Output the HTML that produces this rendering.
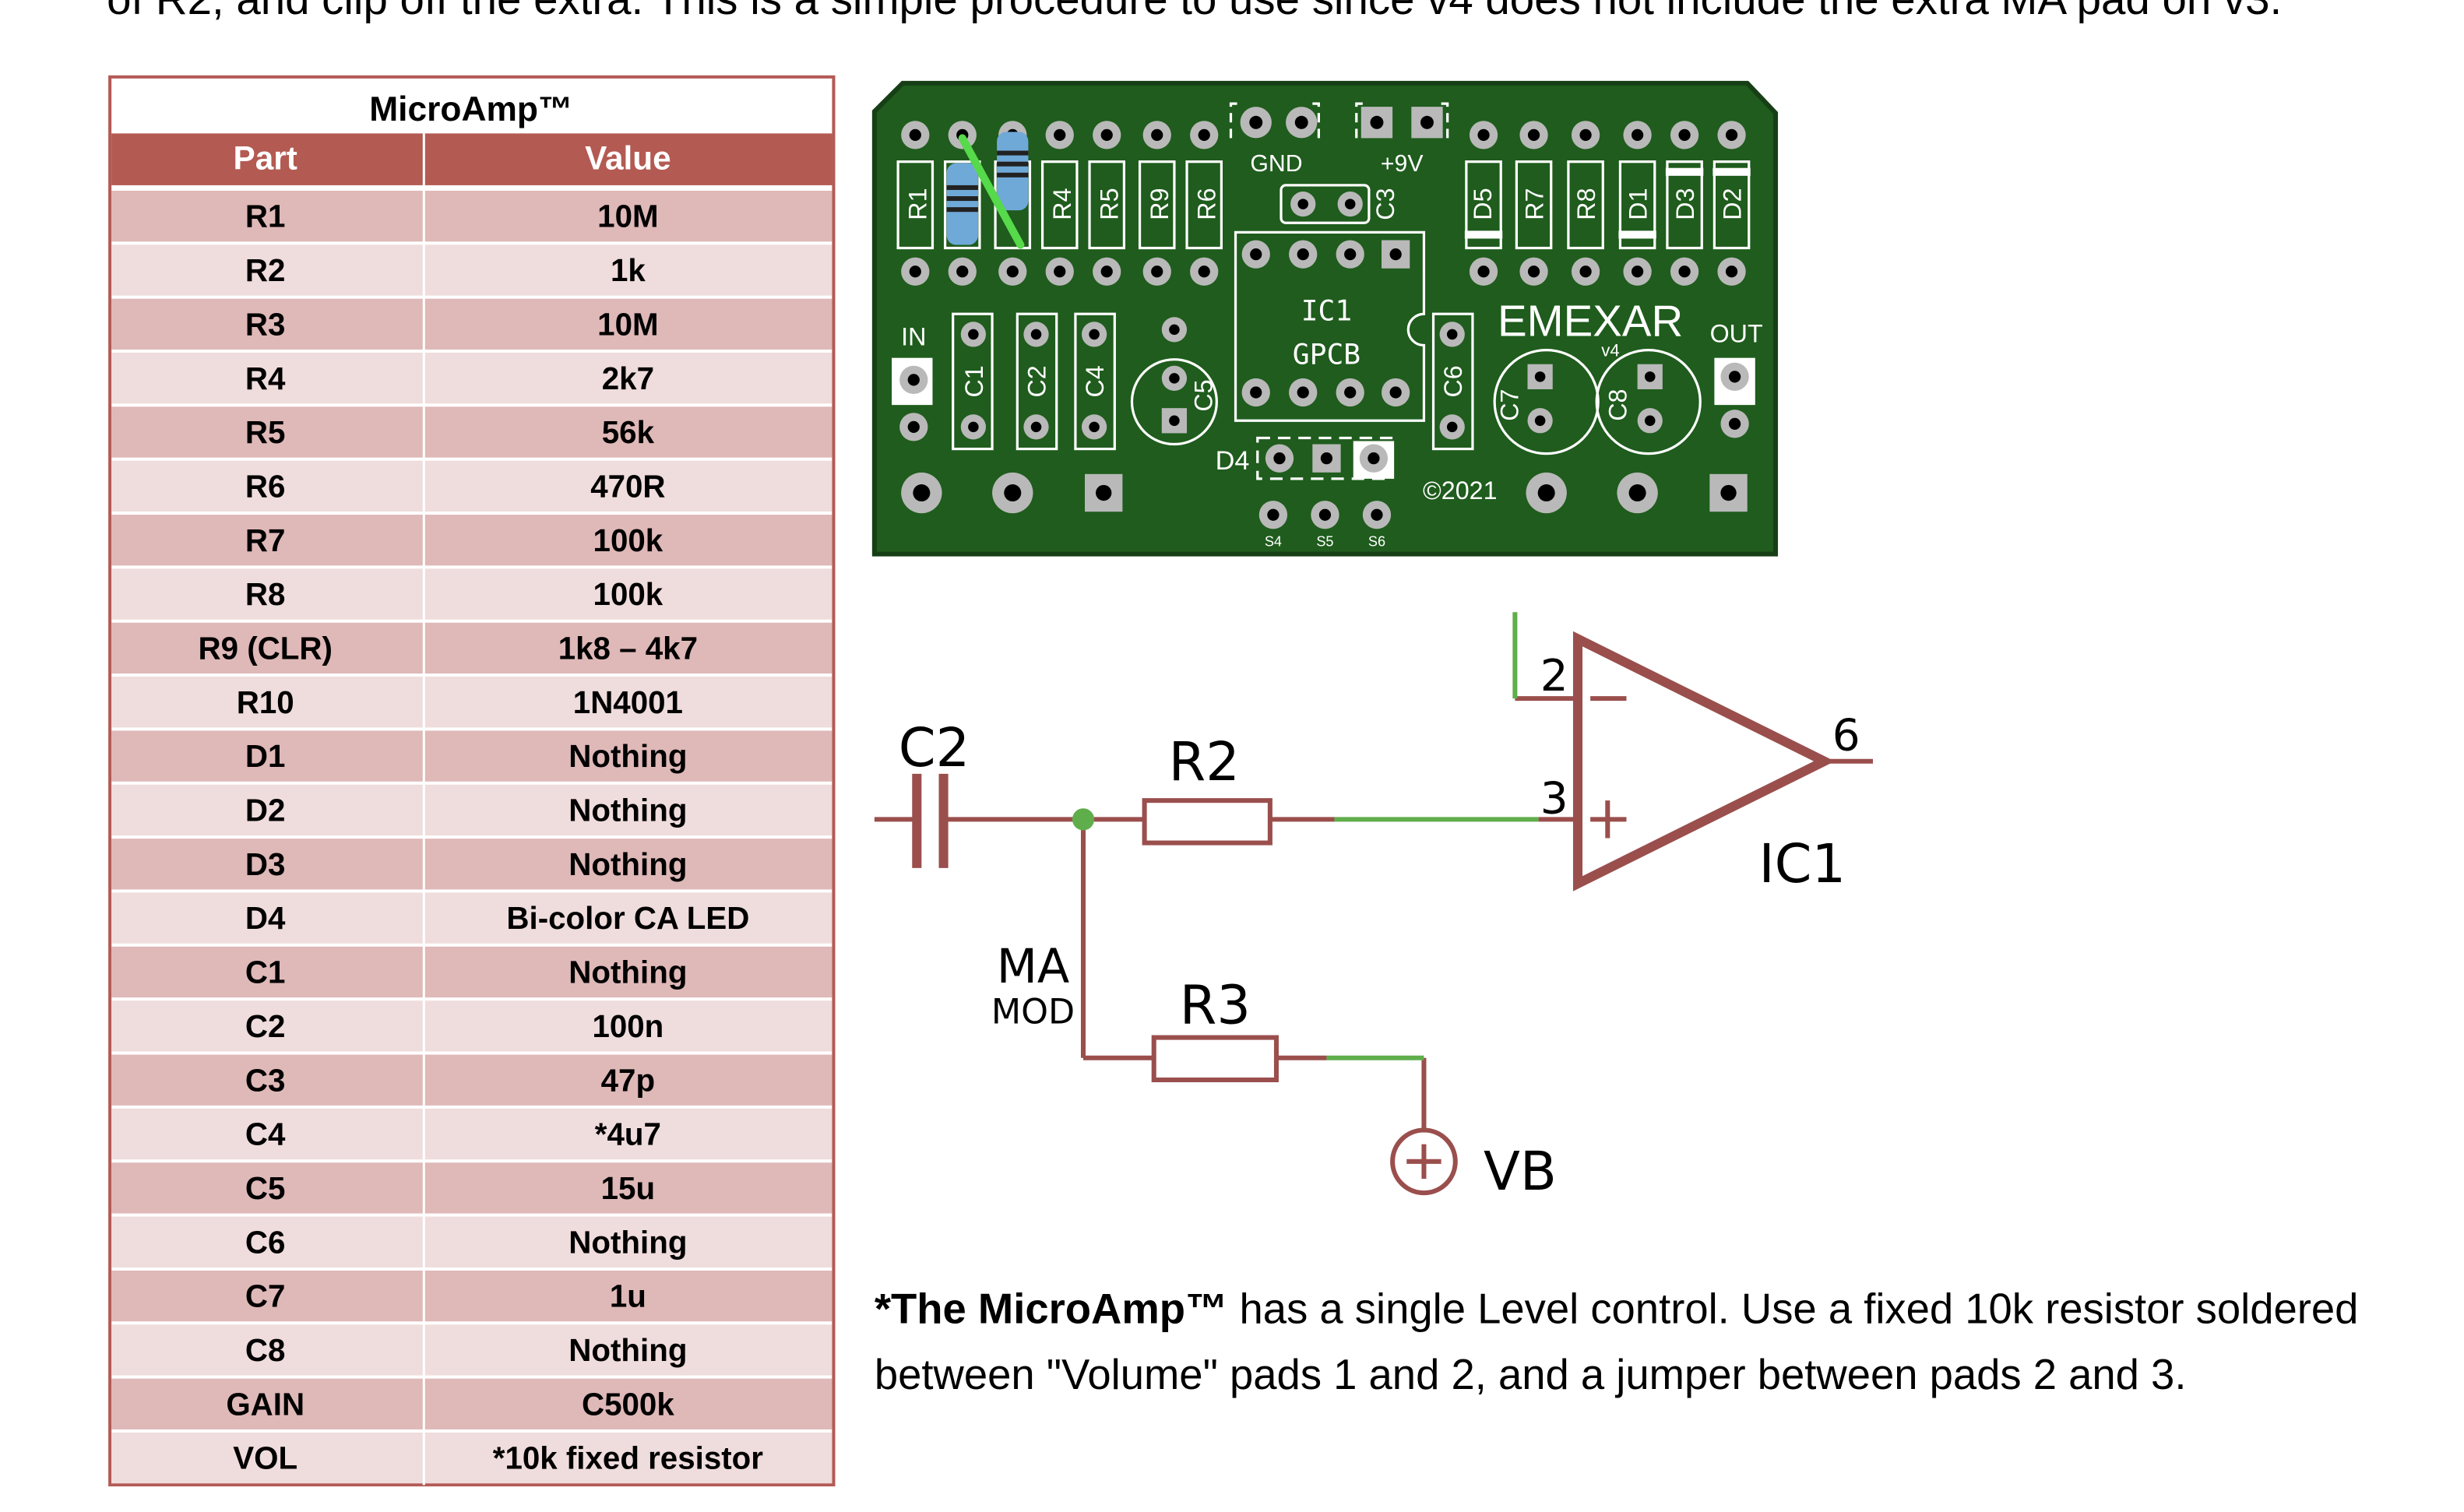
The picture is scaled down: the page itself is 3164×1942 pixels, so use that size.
<!DOCTYPE html>
<html><head><meta charset="utf-8"><style>
html,body{margin:0;padding:0;background:#fff;}
svg{display:block;}
</style></head><body>
<svg width="3164" height="1942" viewBox="0 0 1569.5 963.3" xmlns="http://www.w3.org/2000/svg" font-family="Liberation Sans, sans-serif">
<rect width="1570" height="964" fill="#fff"/>
<text x="68" y="9" font-size="28" fill="#000">of R2, and clip off the extra. This is a simple procedure to use since v4 does not include the extra MA pad on v3.</text>

<!-- TABLE -->
<rect x="70" y="49" width="461" height="897" fill="#fff" stroke="#b35a55" stroke-width="2"/>
<text x="300" y="77" font-size="22" font-weight="bold" text-anchor="middle">MicroAmp™</text>
<rect x="71" y="85" width="459" height="33" fill="#b35a52"/>
<line x1="270" y1="85" x2="270" y2="946" stroke="#fff" stroke-width="1.5"/>
<text x="169" y="108" font-size="21" font-weight="bold" fill="#fff" text-anchor="middle">Part</text>
<text x="400" y="108" font-size="21" font-weight="bold" fill="#fff" text-anchor="middle">Value</text>
<g font-size="20" font-weight="bold" text-anchor="middle">
<g id="rows"></g>
</g>
<script>
(function(){
var d=[["R1","10M"],["R2","1k"],["R3","10M"],["R4","2k7"],["R5","56k"],["R6","470R"],["R7","100k"],["R8","100k"],["R9 (CLR)","1k8 – 4k7"],["R10","1N4001"],["D1","Nothing"],["D2","Nothing"],["D3","Nothing"],["D4","Bi-color CA LED"],["C1","Nothing"],["C2","100n"],["C3","47p"],["C4","*4u7"],["C5","15u"],["C6","Nothing"],["C7","1u"],["C8","Nothing"],["GAIN","C500k"],["VOL","*10k fixed resistor"]];
var g=document.getElementById("rows"),ns="http://www.w3.org/2000/svg",h=34.4,y0=120.5;
d.forEach(function(r,i){var y=y0+i*h;
var a=document.createElementNS(ns,"rect");a.setAttribute("x",71);a.setAttribute("y",y+1);a.setAttribute("width",459);a.setAttribute("height",h-2);a.setAttribute("fill",i%2?"#efdcdc":"#dfb8b8");g.appendChild(a);
[[169,r[0]],[400,r[1]]].forEach(function(c){var t=document.createElementNS(ns,"text");t.setAttribute("x",c[0]);t.setAttribute("y",y+h/2+7);t.textContent=c[1];g.appendChild(t);});
var l=document.createElementNS(ns,"line");l.setAttribute("x1",270);l.setAttribute("x2",270);l.setAttribute("y1",y);l.setAttribute("y2",y+h);l.setAttribute("stroke","#fff");l.setAttribute("stroke-width","1.5");g.appendChild(l);
});
})();
</script>

<!-- PCB -->
<polygon points="557,71 575,53 1113,53 1131,72 1131,353 557,353" fill="#1f5c1d" stroke="#173f16" stroke-width="3"/>
<g fill="none" stroke="#fff" stroke-width="1.6">
 <rect x="572" y="103" width="22" height="55"/><rect x="602" y="103" width="22" height="55"/><rect x="634" y="103" width="22" height="55"/>
 <rect x="664" y="103" width="22" height="55"/><rect x="694" y="103" width="22" height="55"/><rect x="726" y="103" width="22" height="55"/><rect x="756" y="103" width="22" height="55"/>
 <rect x="934" y="103" width="22" height="55"/><rect x="966" y="103" width="22" height="55"/><rect x="999" y="103" width="22" height="55"/>
 <rect x="1032" y="103" width="22" height="55"/><rect x="1062" y="103" width="22" height="55"/><rect x="1092" y="103" width="22" height="55"/>
 <rect x="816" y="118" width="56" height="24" rx="3"/>
 <path d="M787,148 H907 V200 A10,10 0 0 0 907,220 V268 H787 Z"/>
 <rect x="607" y="200" width="25" height="86"/><rect x="648" y="200" width="25" height="86"/><rect x="685" y="200" width="25" height="86"/>
 <rect x="913" y="200" width="25" height="86"/>
 <circle cx="748" cy="256" r="27"/><circle cx="985" cy="256" r="33"/><circle cx="1050" cy="256" r="33"/>
 <path d="M788,66 h-4 v22 h4 M836,66 h4 v22 h-4" stroke-dasharray="6,4"/>
 <path d="M868,66 h-4 v22 h4 M918,66 h4 v22 h-4" stroke-dasharray="6,4"/>
 <rect x="801" y="279" width="86" height="26" stroke-dasharray="8,5"/>
</g>
<g fill="#fff"><rect x="933" y="147" width="24" height="5"/><rect x="1031" y="147" width="24" height="5"/><rect x="1061" y="107" width="24" height="5"/><rect x="1091" y="107" width="24" height="5"/>
<rect x="568" y="228" width="26" height="30"/><rect x="1092" y="228" width="26" height="30"/><rect x="862" y="281" width="26" height="24"/></g>
<g id="pads"></g>
<script>
(function(){
var g=document.getElementById("pads"),ns="http://www.w3.org/2000/svg";
function pad(x,y,r,sq){var e;if(sq){e=document.createElementNS(ns,"rect");e.setAttribute("x",x-r);e.setAttribute("y",y-r);e.setAttribute("width",2*r);e.setAttribute("height",2*r);}else{e=document.createElementNS(ns,"circle");e.setAttribute("cx",x);e.setAttribute("cy",y);e.setAttribute("r",r);}e.setAttribute("fill","#b9b9b9");g.appendChild(e);var h=document.createElementNS(ns,"circle");h.setAttribute("cx",x);h.setAttribute("cy",y);h.setAttribute("r",r*0.42);h.setAttribute("fill","#000");g.appendChild(h);}
[583,613,645,675,705,737,767,945,977,1010,1043,1073,1103].forEach(function(x){pad(x,86,9);pad(x,173,9);});
pad(800,78,10);pad(829,78,10);pad(877,78,10,1);pad(909,78,10,1);
pad(830,130,8);pad(860,130,8);
pad(800,162,9);pad(830,162,9);pad(860,162,9);pad(889,162,9,1);
[800,830,860,889].forEach(function(x){pad(x,250,9);});
pad(582,242,9);pad(582,272,9);
[620,660,697].forEach(function(x){pad(x,213,8);pad(x,272,8);});
pad(748,210,8);pad(748,241,8);pad(748,268,8,1);
pad(925,213,8);pad(925,272,8);
pad(981,240,8,1);pad(981,268,8);pad(1051,240,8,1);pad(1051,268,8);
pad(1105,240,9);pad(1105,270,9);
pad(815,292,9);pad(845,292,9,1);pad(875,292,9);
pad(811,328,9);pad(844,328,9);pad(877,328,9);
pad(587,314,13);pad(645,314,13);pad(703,314,12,1);pad(985,314,13);pad(1043,314,13);pad(1101,314,12,1);
})();
</script>
<g>
 <rect x="603" y="104" width="20" height="52" rx="6" fill="#6fa9d8"/>
 <rect x="635" y="84" width="20" height="50" rx="6" fill="#6fa9d8"/>
 <g fill="#222"><rect x="603" y="118" width="20" height="3"/><rect x="603" y="125" width="20" height="3"/><rect x="603" y="132" width="20" height="3"/><rect x="635" y="96" width="20" height="3"/><rect x="635" y="103" width="20" height="3"/><rect x="635" y="110" width="20" height="3"/></g>
 <line x1="613" y1="88" x2="650" y2="156" stroke="#56d94a" stroke-width="5" stroke-linecap="round"/>
</g>
<g fill="#fff" font-size="15">
 <text x="813" y="109" text-anchor="middle">GND</text><text x="893" y="109" text-anchor="middle">+9V</text>
 <text x="845" y="204" text-anchor="middle" font-size="18" font-family="DejaVu Sans Mono, monospace">IC1</text>
 <text x="845" y="232" text-anchor="middle" font-size="18" font-family="DejaVu Sans Mono, monospace">GPCB</text>
 <text x="1013" y="214" text-anchor="middle" font-size="28">EMEXAR</text>
 <text x="1020" y="227" font-size="11">v4</text>
 <text x="1106" y="218" text-anchor="middle" font-size="16">OUT</text>
 <text x="582" y="220" text-anchor="middle" font-size="16">IN</text>
 <text x="785" y="299" text-anchor="middle" font-size="17">D4</text>
 <text x="930" y="318" text-anchor="middle" font-size="16">©2021</text>
 <text x="811" y="348" text-anchor="middle" font-size="9">S4</text><text x="844" y="348" text-anchor="middle" font-size="9">S5</text><text x="877" y="348" text-anchor="middle" font-size="9">S6</text>
 <g font-size="16">
 <text transform="translate(590,130) rotate(-90)" text-anchor="middle">R1</text>
 <text transform="translate(682,130) rotate(-90)" text-anchor="middle">R4</text>
 <text transform="translate(712,130) rotate(-90)" text-anchor="middle">R5</text>
 <text transform="translate(744,130) rotate(-90)" text-anchor="middle">R9</text>
 <text transform="translate(774,130) rotate(-90)" text-anchor="middle">R6</text>
 <text transform="translate(950,130) rotate(-90)" text-anchor="middle">D5</text>
 <text transform="translate(983,130) rotate(-90)" text-anchor="middle">R7</text>
 <text transform="translate(1016,130) rotate(-90)" text-anchor="middle">R8</text>
 <text transform="translate(1049,130) rotate(-90)" text-anchor="middle">D1</text>
 <text transform="translate(1079,130) rotate(-90)" text-anchor="middle">D3</text>
 <text transform="translate(1109,130) rotate(-90)" text-anchor="middle">D2</text>
 <text transform="translate(888,130) rotate(-90)" text-anchor="middle">C3</text>
 <text transform="translate(626,243) rotate(-90)" text-anchor="middle">C1</text>
 <text transform="translate(666,243) rotate(-90)" text-anchor="middle">C2</text>
 <text transform="translate(703,243) rotate(-90)" text-anchor="middle">C4</text>
 <text transform="translate(772,252) rotate(-90)" text-anchor="middle">C5</text>
 <text transform="translate(931,243) rotate(-90)" text-anchor="middle">C6</text>
 <text transform="translate(967,258) rotate(-90)" text-anchor="middle">C7</text>
 <text transform="translate(1036,258) rotate(-90)" text-anchor="middle">C8</text>
 </g>
</g>

<!-- SCHEMATIC -->
<g stroke="#9a4f4d" fill="none" stroke-width="3">
 <line x1="557" y1="522" x2="584" y2="522"/>
 <line x1="584" y1="493" x2="584" y2="553" stroke-width="6"/>
 <line x1="601" y1="493" x2="601" y2="553" stroke-width="6"/>
 <line x1="601" y1="522" x2="729" y2="522"/>
 <rect x="729" y="510" width="80" height="27"/>
 <line x1="809" y1="522" x2="850" y2="522"/>
 <line x1="980" y1="522" x2="1005" y2="522"/>
 <polygon points="1005,407 1005,563 1162,485" stroke-width="6" stroke-linejoin="miter"/>
 <line x1="1162" y1="485" x2="1193" y2="485"/>
 <line x1="965" y1="445" x2="1005" y2="445"/>
 <line x1="1013" y1="445" x2="1036" y2="445"/>
 <line x1="1013" y1="522" x2="1036" y2="522"/><line x1="1024" y1="510" x2="1024" y2="534"/>
 <line x1="690" y1="522" x2="690" y2="674"/>
 <line x1="690" y1="674" x2="735" y2="674"/>
 <rect x="735" y="661" width="78" height="27"/>
 <line x1="813" y1="674" x2="845" y2="674"/>
 <line x1="907" y1="674" x2="907" y2="720"/>
 <circle cx="907" cy="740" r="20"/>
 <line x1="896" y1="740" x2="918" y2="740"/><line x1="907" y1="729" x2="907" y2="751"/>
</g>
<g stroke="#5fae4b" stroke-width="3" fill="none">
 <line x1="850" y1="522" x2="980" y2="522"/>
 <line x1="965" y1="390" x2="965" y2="445"/>
 <line x1="845" y1="674" x2="907" y2="674"/>
</g>
<circle cx="690" cy="522" r="7" fill="#5fae4b"/>
<g font-family="DejaVu Sans, sans-serif" fill="#000">
 <text x="595" y="488" font-size="34" text-anchor="middle">C2</text>
 <text x="767" y="497" font-size="34" text-anchor="middle">R2</text>
 <text x="774" y="652" font-size="34" text-anchor="middle">R3</text>
 <text x="658" y="626" font-size="30" text-anchor="middle">MA</text>
 <text x="658" y="652" font-size="22" text-anchor="middle">MOD</text>
 <text x="990" y="440" font-size="28" text-anchor="middle">2</text>
 <text x="990" y="518" font-size="28" text-anchor="middle">3</text>
 <text x="1176" y="478" font-size="28" text-anchor="middle">6</text>
 <text x="1148" y="562" font-size="34" text-anchor="middle">IC1</text>
 <text x="945" y="758" font-size="34">VB</text>
</g>

<g font-size="27" fill="#000">
 <text x="557" y="843"><tspan font-weight="bold">*The MicroAmp™</tspan> has a single Level control. Use a fixed 10k resistor soldered</text>
 <text x="557" y="885">between "Volume" pads 1 and 2, and a jumper between pads 2 and 3.</text>
</g>
</svg>
</body></html>
